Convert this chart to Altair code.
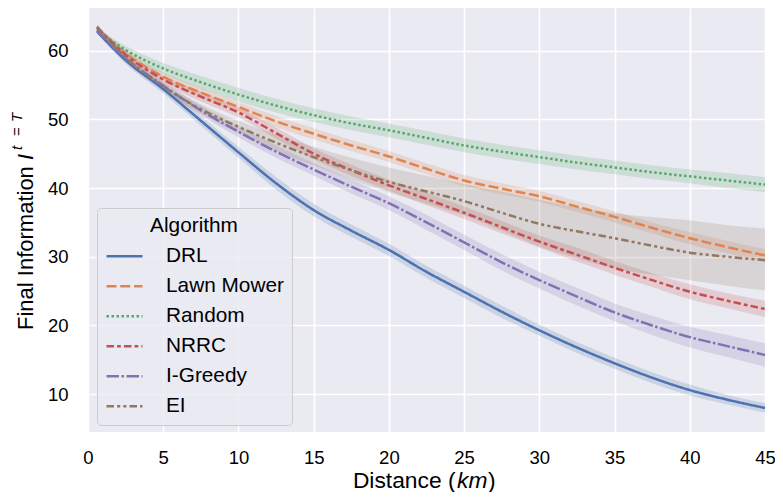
import altair as alt
import pandas as pd

# ---------------- data ----------------
distance = [0.6, 2.5, 5, 7.5, 10, 12.5, 15, 17.5, 20, 22.5, 25, 27.5, 30, 32.5, 35, 37.5, 40, 42.5, 45]

algorithms = ["DRL", "Lawn Mower", "Random", "NRRC", "I-Greedy", "EI"]
colors = ["#4C72B0", "#DD8452", "#55A868", "#C44E52", "#8172B3", "#937860"]
dashes = [[1, 0], [10, 3.75], [2.5, 2.5], [7.5, 3.1, 3.75, 3.1], [12.5, 2.5, 2.5, 2.5],
          [7.5, 3.1, 3.1, 3.1, 3.1, 3.1]]

drl = [62.8, 58.6, 54.4, 49.8, 45.2, 40.7, 36.8, 33.8, 31.0, 27.8, 24.9, 22.0, 19.3, 16.8, 14.5, 12.4, 10.6, 9.2, 8.0]
lawn = [63.3, 59.6, 56.2, 53.9, 51.8, 49.7, 47.9, 46.2, 44.6, 42.8, 41.1, 39.9, 38.8, 37.3, 35.8, 34.2, 32.7, 31.4, 30.2]
rand = [63.0, 60.1, 57.4, 55.4, 53.6, 52.0, 50.6, 49.4, 48.4, 47.3, 46.2, 45.3, 44.5, 43.7, 43.0, 42.3, 41.7, 41.1, 40.5]
nrrc = [63.3, 59.4, 55.8, 53.3, 51.0, 48.0, 45.0, 42.6, 40.4, 38.4, 36.4, 34.3, 32.2, 30.3, 28.4, 26.6, 24.9, 23.6, 22.4]
igreedy = [62.9, 58.9, 54.9, 51.3, 48.2, 45.3, 42.7, 40.2, 37.8, 35.0, 32.1, 29.2, 26.6, 24.2, 21.9, 20.0, 18.3, 17.0, 15.7]
ei = [63.5, 59.0, 54.8, 51.5, 48.9, 46.6, 44.5, 42.6, 40.9, 39.5, 38.1, 36.4, 34.8, 33.7, 32.7, 31.6, 30.6, 30.0, 29.5]

drl_lo = [62.5, 58.1, 53.8, 49.1, 44.4, 39.8, 35.9, 32.9, 30.1, 26.9, 24.0, 21.1, 18.5, 16.0, 13.7, 11.6, 9.8, 8.5, 7.3]
drl_hi = [63.1, 59.1, 55.0, 50.5, 46.0, 41.6, 37.7, 34.7, 31.9, 28.7, 25.8, 22.9, 20.1, 17.6, 15.3, 13.2, 11.4, 9.9, 8.7]
lawn_lo = [63.0, 59.1, 55.6, 53.2, 51.1, 48.9, 47.1, 45.4, 43.8, 42.0, 40.3, 39.1, 38.0, 36.5, 35.0, 33.4, 31.8, 30.5, 29.3]
lawn_hi = [63.6, 60.1, 56.8, 54.6, 52.5, 50.5, 48.7, 47.0, 45.4, 43.6, 41.9, 40.7, 39.6, 38.1, 36.6, 35.0, 33.6, 32.3, 31.1]
rand_lo = [62.7, 59.5, 56.6, 54.5, 52.6, 51.0, 49.6, 48.4, 47.4, 46.3, 45.2, 44.3, 43.5, 42.7, 42.0, 41.3, 40.7, 40.0, 39.4]
rand_hi = [63.3, 60.7, 58.2, 56.3, 54.6, 53.0, 51.6, 50.4, 49.4, 48.3, 47.2, 46.3, 45.5, 44.7, 44.0, 43.3, 42.7, 42.2, 41.6]
nrrc_lo = [63.0, 58.9, 55.2, 52.6, 50.3, 47.2, 44.2, 41.8, 39.6, 37.5, 35.5, 33.4, 31.3, 29.3, 27.4, 25.6, 23.8, 22.5, 21.2]
nrrc_hi = [63.6, 59.9, 56.4, 54.0, 51.7, 48.8, 45.8, 43.4, 41.2, 39.3, 37.3, 35.2, 33.1, 31.3, 29.4, 27.6, 26.0, 24.7, 23.6]
igreedy_lo = [62.6, 58.4, 54.3, 50.6, 47.4, 44.4, 41.8, 39.2, 36.8, 33.9, 31.0, 28.0, 25.4, 22.9, 20.6, 18.6, 16.8, 15.4, 14.0]
igreedy_hi = [63.2, 59.4, 55.5, 52.0, 49.0, 46.2, 43.6, 41.2, 38.8, 36.1, 33.2, 30.4, 27.8, 25.5, 23.2, 21.4, 19.8, 18.6, 17.4]
ei_lo = [63.2, 58.6, 54.3, 50.8, 48.0, 45.4, 43.3, 41.2, 39.4, 37.7, 36.0, 33.8, 31.5, 29.8, 28.3, 27.4, 26.6, 25.8, 25.1]
ei_hi = [63.8, 59.4, 55.3, 52.2, 49.8, 47.8, 46.0, 44.4, 43.0, 41.8, 40.6, 39.5, 38.3, 37.2, 36.3, 35.8, 35.3, 34.6, 34.1]

series = {
    "DRL": (drl, drl_lo, drl_hi),
    "Lawn Mower": (lawn, lawn_lo, lawn_hi),
    "Random": (rand, rand_lo, rand_hi),
    "NRRC": (nrrc, nrrc_lo, nrrc_hi),
    "I-Greedy": (igreedy, igreedy_lo, igreedy_hi),
    "EI": (ei, ei_lo, ei_hi),
}

rows = []
for name, (mean, lo, hi) in series.items():
    for xv, m, l, h in zip(distance, mean, lo, hi):
        rows.append({"Distance": xv, "Info": m, "Lo": l, "Hi": h, "Algorithm": name})
df = pd.DataFrame(rows)

FONT = "Liberation Sans"
LEGEND_SIZE = 20.8
x_scale = alt.Scale(domain=[0, 45], nice=False, zero=False)
y_scale = alt.Scale(domain=[4.5, 66.2], nice=False, zero=False)

x_axis = alt.Axis(values=list(range(0, 46, 5)), title=None, labelFontSize=18.5, labelPadding=16,
                  labelColor="#000", labelFont=FONT, labelFlush=False)
y_axis = alt.Axis(values=[10, 20, 30, 40, 50, 60], title=None, labelFontSize=18.5, labelPadding=20,
                  labelColor="#000", labelFont=FONT, labelFlush=False)

legend = alt.Legend(
    title="Algorithm", orient="none", legendX=9, legendY=200,
    titleAnchor="middle", titleFontSize=LEGEND_SIZE, titleFontWeight="normal", titleColor="#000",
    titleFont=FONT, labelFont=FONT, labelFontSize=LEGEND_SIZE, labelColor="#000",
    symbolType="stroke", symbolSize=1296, symbolStrokeWidth=2.5, labelOffset=22,
    padding=8, fillColor="rgba(234,234,242,0.8)", strokeColor="#CCCCCC",
    cornerRadius=4, rowPadding=0, titlePadding=0,
)

base = alt.Chart(df)

bands = base.mark_area(opacity=0.2, interpolate="monotone").encode(
    x=alt.X("Distance:Q", scale=x_scale, axis=x_axis),
    y=alt.Y("Lo:Q", scale=y_scale, axis=y_axis),
    y2="Hi:Q",
    fill=alt.Fill("Algorithm:N", scale=alt.Scale(domain=algorithms, range=colors), legend=None),
    detail="Algorithm:N",
)

lines = base.mark_line(strokeWidth=2.5, interpolate="monotone").encode(
    x=alt.X("Distance:Q", scale=x_scale),
    y=alt.Y("Info:Q", scale=y_scale),
    color=alt.Color("Algorithm:N", scale=alt.Scale(domain=algorithms, range=colors), legend=legend),
    strokeDash=alt.StrokeDash("Algorithm:N", scale=alt.Scale(domain=algorithms, range=dashes),
                              legend=legend),
)

# axis titles built from text pieces (mixed italic / superscript)
def txt(s, x, y, size=22, style="normal", align="left", angle=0):
    return alt.Chart(pd.DataFrame({"t": [s]})).mark_text(
        text=s, font=FONT, fontSize=size, fontStyle=style, align=align, angle=angle,
        baseline="alphabetic", color="#000",
    ).encode(x=alt.value(x), y=alt.value(y))

titles = [
    txt("Distance (", 367.5, 480, size=22.8, align="right"),
    txt("km", 369, 480, size=22.8, style="italic"),
    txt(")", 400, 480, size=22.8),
    txt("Final Information", -55, 322, angle=270),
    txt("I", -55, 152, style="italic", angle=270),
    txt("t", -66, 142, size=15, style="italic", angle=270),
    txt("=", -66, 128, size=15, angle=270),
    txt("T", -66, 114, size=15, style="italic", angle=270),
]

chart = alt.layer(bands, lines, *titles).resolve_scale(
    fill="independent"
).resolve_legend(
    fill="independent"
).properties(
    width=677,
    height=424,
    autosize=alt.AutoSizeParams(type="none"),
    padding={"left": 80, "top": 0, "right": 10, "bottom": 60},
    background="#FFFFFF",
).configure_view(
    fill="#EAEAF2", stroke=None
).configure_axis(
    grid=True, gridColor="#FFFFFF", gridWidth=1.6, domain=False, ticks=False,
)

chart.save("out.html", embed_options={"renderer": "svg", "actions": False})
